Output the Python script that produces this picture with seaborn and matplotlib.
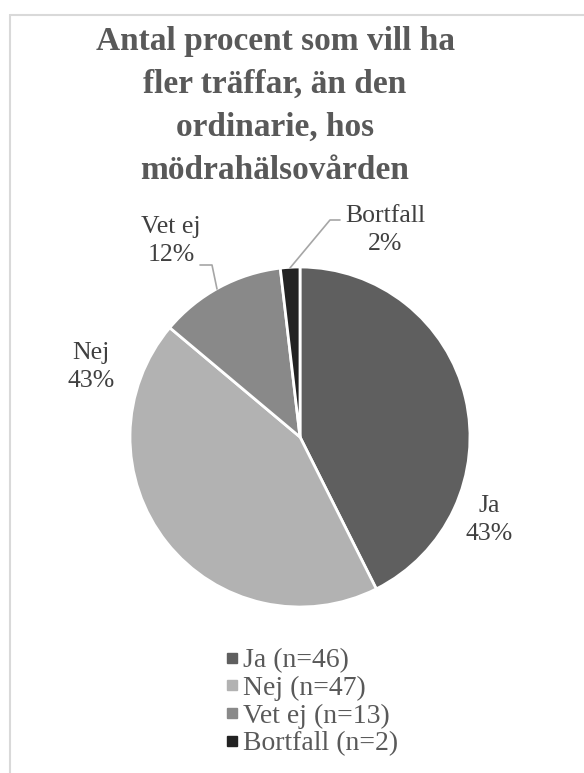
import matplotlib
matplotlib.use("Agg")
import matplotlib.pyplot as plt
import seaborn as sns
from matplotlib.lines import Line2D

# ---- data ----
categories = ["Ja", "Nej", "Vet ej", "Bortfall"]
counts = [46, 47, 13, 2]
pct_labels = ["43%", "43%", "12%", "2%"]
legend_labels = ["Ja (n=46)", "Nej (n=47)", "Vet ej (n=13)", "Bortfall (n=2)"]
title = "Antal procent som vill ha\nfler träffar, än den\nordinarie, hos\nmödrahälsovården"

sns.set_theme(style="white")
plt.rcParams['font.family'] = ['Liberation Serif', 'DejaVu Serif']

colors = sns.color_palette(["#5f5f5f", "#b2b2b2", "#898989", "#222222"])

W, H = 584, 773
fig = plt.figure(figsize=(W / 100, H / 100), dpi=100)
ax = fig.add_axes([0, 0, 1, 1])

def Y(y):
    return H - y

cx, cy, r = 300, 437, 170
wedges, _ = ax.pie(counts, colors=colors, startangle=90, counterclock=False,
                   center=(cx, Y(cy)), radius=r,
                   wedgeprops=dict(edgecolor="white", linewidth=2))
ax.set_xlim(0, W)
ax.set_ylim(0, H)
ax.set_aspect("equal")
ax.axis("off")

# frame
ax.plot([9.5, W], [Y(14.5), Y(14.5)], color="#d9d9d9", lw=1.5, solid_capstyle="butt")
ax.plot([9.5, 9.5], [Y(14), 0], color="#d9d9d9", lw=1.5, solid_capstyle="butt")

# title
ax.text(275, Y(26), title, ha="center", va="top", fontsize=24, fontweight="bold",
        color="#595959", linespacing=1.5)

# data labels
lab_fs = 18.5
lab_col = "#404040"
label_pos = [(489, 520), (91, 367), (171, 241), (385, 230)]
for cat, pct, (lx, ly) in zip(categories, pct_labels, label_pos):
    ax.text(lx, Y(ly), f"{cat}\n{pct}", ha="center", va="center", fontsize=lab_fs,
            color=lab_col, linespacing=1.4)

# leader lines
ax.plot([200, 212, 217], [Y(265), Y(265), Y(289)], color="#a6a6a6", lw=1.2)
ax.plot([340, 330, 290], [Y(220), Y(220), Y(268)], color="#a6a6a6", lw=1.2)

# legend
handles = [Line2D([], [], marker="s", linestyle="", color=c, markersize=6.5)
           for c in colors]
ax.legend(handles, legend_labels, loc="upper left",
          bbox_to_anchor=(226, Y(648)), bbox_transform=ax.transData,
          frameon=False, fontsize=20, handlelength=0.45, handletextpad=0.15,
          labelspacing=0.08, borderpad=0, borderaxespad=0, labelcolor="#595959")

fig.savefig("out.png", dpi=100, facecolor="white")
